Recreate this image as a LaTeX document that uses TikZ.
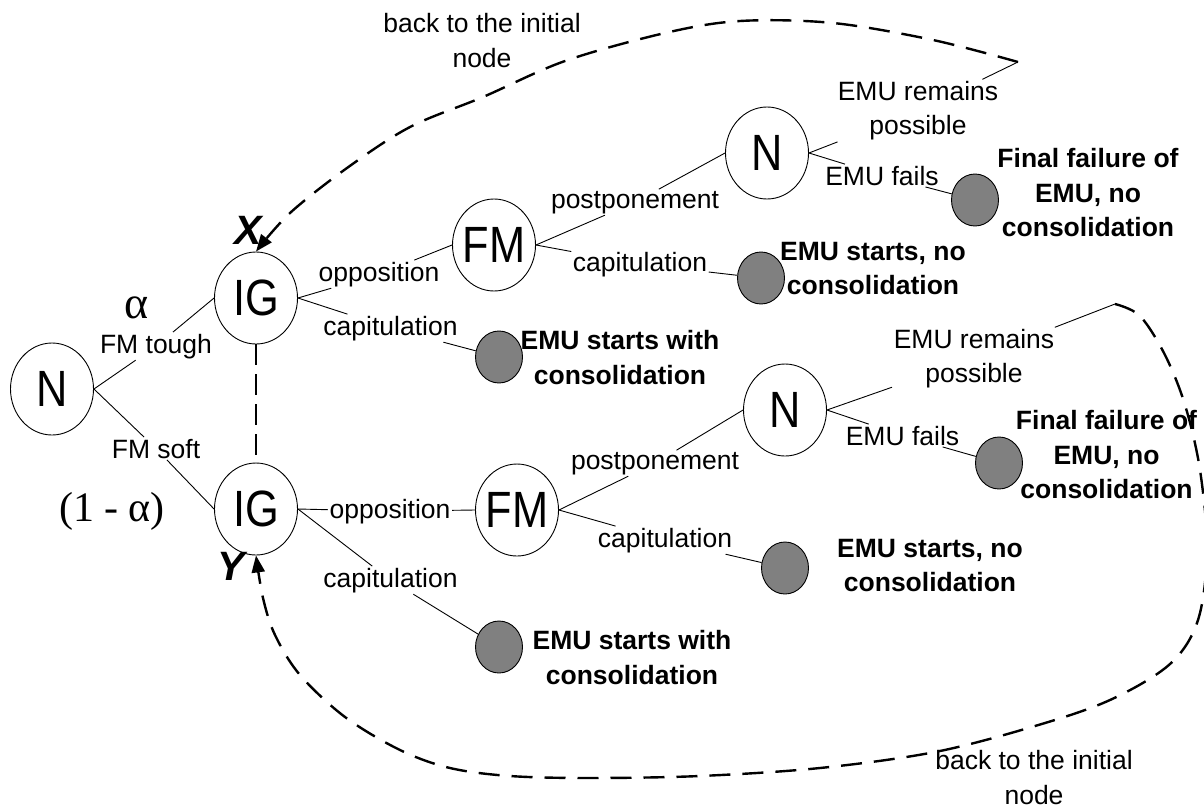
\documentclass[tikz,border=0pt]{standalone}
\usepackage{fontspec}
\setmainfont{Liberation Sans}
\newfontfamily\seriffont{Liberation Serif}
\newfontfamily\bigfont[FakeStretch=0.85]{Liberation Sans}
\usetikzlibrary{shapes.geometric,arrows.meta}
\definecolor{dotgray}{RGB}{128,128,128}
\begin{document}
\begin{tikzpicture}[x=1pt,y=-1pt,
  state/.style={ellipse, draw, line width=0.9pt, fill=white, minimum width=83pt, minimum height=92pt, inner sep=0pt},
  dot/.style={ellipse, draw, line width=0.9pt, fill=dotgray, minimum width=47pt, minimum height=52pt, inner sep=0pt},
  lab/.style={font=\fontsize{26.5}{34.5}\selectfont, inner sep=1.5pt, anchor=base},
  mlab/.style={font=\fontsize{26.5}{34.5}\selectfont, align=center, inner sep=1.5pt},
  blab/.style={font=\fontsize{26.5}{34.5}\selectfont\bfseries, align=center, inner sep=1.5pt},
  edge/.style={line width=0.9pt},
  backarrow/.style={line width=2.4pt, dash pattern=on 21pt off 12pt, -{Triangle[length=17pt,width=13pt]}},
  vdash/.style={line width=2.4pt, dash pattern=on 21pt off 9pt},
  biglab/.style={label={[font=\bigfont\fontsize{51}{51}\selectfont]center:#1}},
  greek/.style={font=\seriffont\fontsize{42}{42}\selectfont, inner sep=0pt, anchor=base},
  xy/.style={font=\fontsize{41}{41}\selectfont\bfseries\itshape, inner sep=0pt, anchor=base}
]
\useasboundingbox (0,0) rectangle (1204,809);

% decision nodes
\node[state, biglab=N]  (N0)  at (52,389)  {};
\node[state, biglab=IG] (IG1) at (256,298) {};
\node[state, biglab=IG] (IG2) at (256,509) {};
\node[state, biglab=FM] (FM1) at (494,245) {};
\node[state, biglab=FM] (FM2) at (517,510) {};
\node[state, biglab=N]  (N1)  at (767,153) {};
\node[state, biglab=N]  (N2)  at (785,410) {};

% terminal dots
\node[dot] (D1) at (975,200) {};
\node[dot] (D2) at (761,278) {};
\node[dot] (D3) at (499,357) {};
\node[dot] (D4) at (999,463) {};
\node[dot] (D5) at (785,568) {};
\node[dot] (D6) at (499,647) {};

% loop end points
\coordinate (rt1) at (1018,62);
\coordinate (rt2) at (1115,304);

% edge labels
\node[lab] (ltough) at (156,353) {FM tough};
\node[lab] (lsoft)  at (156,458) {FM soft};
\node[lab] (lopp1)  at (379,281) {opposition};
\node[lab] (lcap1)  at (390.5,335) {capitulation};
\node[lab] (lpost1) at (635,208) {postponement};
\node[lab] (lcap2)  at (640,271) {capitulation};
\node[mlab] (lrem1) at (918,110.6) {EMU remains\\possible};
\node[lab] (lfail1) at (882,185) {EMU fails};
\node[lab] (lopp2)  at (390,518) {opposition};
\node[lab] (lcap3)  at (390.5,587) {capitulation};
\node[lab] (lpost2) at (655,469) {postponement};
\node[lab] (lcap4)  at (665,547) {capitulation};
\node[mlab] (lrem2) at (974,358.6) {EMU remains\\possible};
\node[lab] (lfail2) at (902.5,445) {EMU fails};

% outcome texts
\node[blab] (o1) at (1088,192.9) {Final failure of\\EMU, no\\consolidation};
\node[blab] (o2) at (873,268.75) {EMU starts, no\\consolidation};
\node[blab] (o3) at (620,357.75) {EMU starts with\\consolidation};
\node[blab] (o4) at (1106.5,454.9) {Final failure of\\EMU, no\\consolidation};
\node[blab] (o5) at (930,565.75) {EMU starts, no\\consolidation};
\node[blab] (o6) at (632,657.75) {EMU starts with\\consolidation};

% loop labels
\node[mlab] (lback1) at (482,40.75) {back to the initial\\node};
\node[mlab] (lback2) at (1034,777.75) {back to the initial\\node};

% probabilities and markers
\node[greek, font=\seriffont\fontsize{46}{46}\selectfont] (alpha) at (137,318) {α};
\node[greek] (oneminus) at (112,521) {(1 - α)};
\node[xy] (X) at (248,244) {X};
\node[xy] (Y) at (231.5,580) {Y};

% connectors
\draw[edge] (N0.east) -- (ltough) -- (IG1.west);
\draw[edge] (N0.east) -- (lsoft) -- (IG2.west);
\draw[edge] (IG1.east) -- (lopp1) -- (FM1.west);
\draw[edge] (IG1.east) -- (lcap1) -- (D3);
\draw[edge] (FM1.east) -- (lpost1) -- (N1.west);
\draw[edge] (FM1.east) -- (lcap2) -- (D2);
\draw[edge] (N1.east) -- (lrem1) -- (rt1);
\draw[edge] (N1.east) -- (lfail1) -- (D1);
\draw[edge] (IG2.east) -- (lopp2) -- (FM2.west);
\draw[edge] (IG2.east) -- (lcap3) -- (D6);
\draw[edge] (FM2.east) -- (lpost2) -- (N2.west);
\draw[edge] (FM2.east) -- (lcap4) -- (D5);
\draw[edge] (N2.east) -- (lrem2) -- (rt2);
\draw[edge] (N2.east) -- (lfail2) -- (D4);

% information set
\draw[vdash] (IG1.south) -- (IG2.north);

% loops back to the initial node
\draw[backarrow] plot[smooth, tension=0.55] coordinates {(rt1) (933,40) (833,23) (740,21) (665,33) (565,61) (483,97) (410,127) (347,168) (290,213) (IG1.north)};
\draw[backarrow] plot[smooth, tension=0.55] coordinates {(rt2) (1140,316) (1165,355) (1185,405) (1200,470) (1207,550) (1198,620) (1170,664) (1110,700) (1035,726) (935,752) (820,768) (700,776) (590,778) (510,776) (450,768) (400,750) (345,717) (300,675) (275,635) (263,598) (IG2.south)};
\end{tikzpicture}
\end{document}
